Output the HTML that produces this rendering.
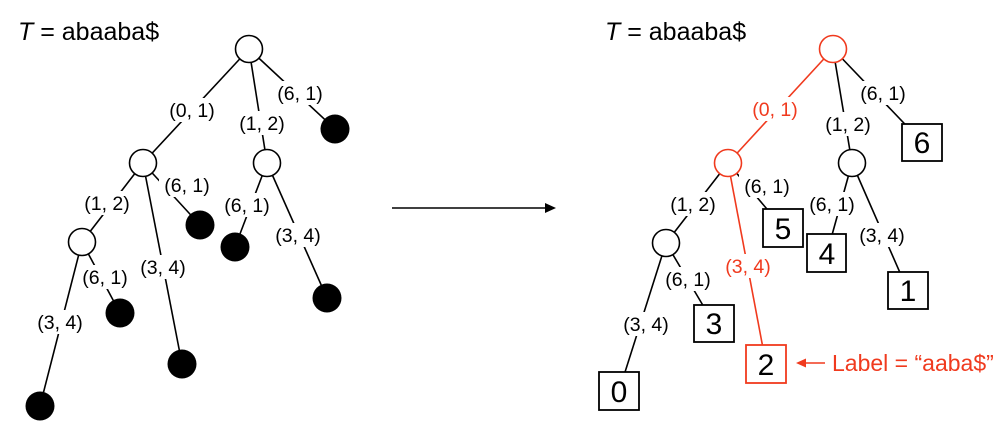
<!DOCTYPE html>
<html><head><meta charset="utf-8"><style>
html,body{margin:0;padding:0;background:#fff;}
svg{display:block;}
</style></head><body>
<svg width="1006" height="434" viewBox="0 0 1006 434" font-family="Liberation Sans, sans-serif">
<g stroke="#000" stroke-width="1.6" fill="none">
<line x1="249" y1="49" x2="143" y2="163"/>
<line x1="249" y1="49" x2="267" y2="163"/>
<line x1="249" y1="49" x2="335" y2="129"/>
<line x1="143" y1="163" x2="82" y2="242"/>
<line x1="143" y1="163" x2="200" y2="225"/>
<line x1="143" y1="163" x2="182" y2="364"/>
<line x1="82" y1="242" x2="120" y2="313"/>
<line x1="82" y1="242" x2="40" y2="406"/>
<line x1="267" y1="163" x2="235" y2="247"/>
<line x1="267" y1="163" x2="327" y2="298"/>
<line x1="833" y1="49" x2="852" y2="163"/>
<line x1="833" y1="49" x2="922" y2="142"/>
<line x1="728" y1="163" x2="666" y2="243"/>
<line x1="728" y1="163" x2="783" y2="228"/>
<line x1="666" y1="243" x2="714" y2="324"/>
<line x1="666" y1="243" x2="619" y2="391"/>
<line x1="852" y1="163" x2="827" y2="253"/>
<line x1="852" y1="163" x2="908" y2="291"/>
</g>
<g stroke="#f03a1e" stroke-width="1.6">
<line x1="833" y1="49" x2="728" y2="163"/>
<line x1="728" y1="163" x2="766" y2="364"/>
</g>
<g stroke="#000" stroke-width="1.6" fill="#fff">
<circle cx="249" cy="49" r="13.5"/>
<circle cx="143" cy="163" r="13.5"/>
<circle cx="267" cy="163" r="13.5"/>
<circle cx="82" cy="242" r="13.5"/>
<circle cx="852" cy="163" r="13.5"/>
<circle cx="666" cy="243" r="13.5"/>
</g>
<g fill="#000">
<circle cx="335" cy="129" r="14.5"/>
<circle cx="200" cy="225" r="14.5"/>
<circle cx="182" cy="364" r="14.5"/>
<circle cx="120" cy="313" r="14.5"/>
<circle cx="40" cy="406" r="14.5"/>
<circle cx="235" cy="247" r="14.5"/>
<circle cx="327" cy="298" r="14.5"/>
</g>
<g stroke="#f03a1e" stroke-width="1.6" fill="#fff">
<circle cx="833" cy="49" r="13.5"/>
<circle cx="728" cy="163" r="13.5"/>
</g>
<g stroke="#000" stroke-width="1.8" fill="#fff">
<rect x="902" y="124" width="40" height="37"/>
<rect x="763" y="209" width="40" height="38"/>
<rect x="807" y="234" width="39" height="38"/>
<rect x="888" y="272" width="40" height="37"/>
<rect x="694" y="305" width="40" height="37"/>
<rect x="599" y="372" width="40" height="38"/>
</g>
<rect x="746" y="345" width="40" height="38" stroke="#f03a1e" stroke-width="1.8" fill="#fff"/>
<g font-size="30" text-anchor="middle" fill="#000">
<text x="922" y="153">6</text>
<text x="783" y="239">5</text>
<text x="827" y="264">4</text>
<text x="908" y="301">1</text>
<text x="714" y="334">3</text>
<text x="766" y="375">2</text>
<text x="619" y="402">0</text>
</g>
<g fill="#fff">
<rect x="164" y="98" width="56" height="24"/>
<rect x="234" y="111" width="56" height="24"/>
<rect x="272" y="81" width="56" height="24"/>
<rect x="79" y="191" width="56" height="24"/>
<rect x="159" y="173" width="56" height="24"/>
<rect x="135" y="255" width="56" height="24"/>
<rect x="77" y="265" width="56" height="24"/>
<rect x="32" y="310" width="56" height="24"/>
<rect x="219" y="193" width="56" height="24"/>
<rect x="270" y="223" width="56" height="24"/>
<rect x="747" y="97" width="56" height="24"/>
<rect x="820" y="112" width="56" height="24"/>
<rect x="855" y="81" width="56" height="24"/>
<rect x="739" y="174" width="56" height="24"/>
<rect x="665" y="192" width="56" height="24"/>
<rect x="720" y="254" width="56" height="24"/>
<rect x="804" y="192" width="56" height="24"/>
<rect x="854" y="223" width="56" height="24"/>
<rect x="660" y="267" width="56" height="24"/>
<rect x="618" y="312" width="56" height="24"/>
</g>
<g font-size="19.5" text-anchor="middle" fill="#000">
<text x="192" y="117">(0, 1)</text>
<text x="262" y="130">(1, 2)</text>
<text x="300" y="100">(6, 1)</text>
<text x="107" y="210">(1, 2)</text>
<text x="187" y="192">(6, 1)</text>
<text x="163" y="274">(3, 4)</text>
<text x="105" y="284">(6, 1)</text>
<text x="60" y="329">(3, 4)</text>
<text x="247" y="212">(6, 1)</text>
<text x="298" y="242">(3, 4)</text>
<text x="775" y="116" fill="#f03a1e">(0, 1)</text>
<text x="848" y="131">(1, 2)</text>
<text x="883" y="100">(6, 1)</text>
<text x="767" y="193">(6, 1)</text>
<text x="693" y="211">(1, 2)</text>
<text x="748" y="273" fill="#f03a1e">(3, 4)</text>
<text x="832" y="211">(6, 1)</text>
<text x="882" y="242">(3, 4)</text>
<text x="688" y="286">(6, 1)</text>
<text x="646" y="331">(3, 4)</text>
</g>
<text x="18" y="40" font-size="25"><tspan font-style="italic">T</tspan> = abaaba$</text>
<text x="605" y="40" font-size="25"><tspan font-style="italic">T</tspan> = abaaba$</text>
<line x1="392" y1="208" x2="546" y2="208" stroke="#000" stroke-width="1.6"/>
<polygon points="556,208 545,203 545,213" fill="#000"/>
<line x1="804" y1="363" x2="825" y2="363" stroke="#f03a1e" stroke-width="1.6"/>
<polygon points="796,363 806,358.5 806,367.5" fill="#f03a1e"/>
<text x="832" y="371" font-size="23" fill="#f03a1e">Label = “aaba$”</text>
</svg>
</body></html>
